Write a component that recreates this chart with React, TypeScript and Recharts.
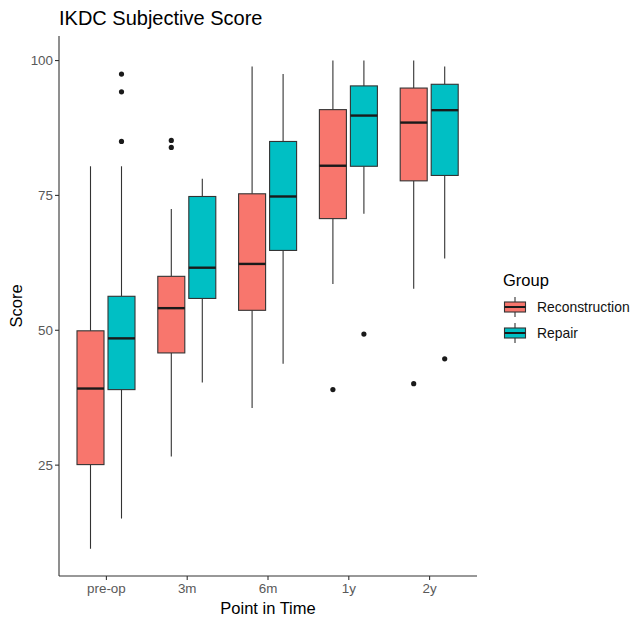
import React from 'react'
import { ComposedChart, Bar, XAxis, YAxis, Legend } from 'recharts'

const timepoints = ['pre-op', '3m', '6m', '1y', '2y']

const reconMin = [9.5, 26.6, 35.6, 58.6, 57.7]
const reconQ1 = [25.1, 45.8, 53.7, 70.7, 77.7]
const reconMedian = [39.2, 54.1, 62.3, 80.5, 88.5]
const reconQ3 = [49.9, 60.0, 75.3, 90.9, 94.9]
const reconMax = [80.4, 72.5, 98.9, 100, 100]
const reconOutliers = [[], [85.2, 83.9], [], [39.0], [40.1]]

const repairMin = [15.1, 40.3, 43.8, 71.6, 63.3]
const repairQ1 = [39.0, 55.9, 64.8, 80.4, 78.7]
const repairMedian = [48.5, 61.6, 74.8, 89.8, 90.8]
const repairQ3 = [56.3, 74.8, 85.0, 95.3, 95.6]
const repairMax = [80.4, 78.1, 97.5, 100, 98.9]
const repairOutliers = [[97.5, 94.2, 85.0], [], [], [49.3], [44.7]]

const yTicks = [25, 50, 75, 100]

const FONT = '"Liberation Sans", Arial, sans-serif'
const RECON = '#F8766D'
const REPAIR = '#00BFC4'
const LINE = '#333333'

const data = timepoints.map((t, i) => ({
  time: t,
  recon: [reconMin[i], reconMax[i]],
  repair: [repairMin[i], repairMax[i]],
  reconStats: { min: reconMin[i], q1: reconQ1[i], med: reconMedian[i], q3: reconQ3[i], max: reconMax[i], out: reconOutliers[i] },
  repairStats: { min: repairMin[i], q1: repairQ1[i], med: repairMedian[i], q3: repairQ3[i], max: repairMax[i], out: repairOutliers[i] },
}))

// bar rect spans whisker min..max; everything else is placed with the same linear scale
const boxShape = (key: 'reconStats' | 'repairStats') => (props: any) => {
  const { x, y, width, height, payload, fill } = props
  const s = payload[key]
  const top = Math.min(y, y + height)
  const h = Math.abs(height)
  const ppu = h / (s.max - s.min)
  const py = (v: number) => top + (s.max - v) * ppu
  const cx = x + width / 2
  return (
    <g>
      <line x1={cx} x2={cx} y1={py(s.max)} y2={py(s.q3)} stroke={LINE} strokeWidth={1.1} />
      <line x1={cx} x2={cx} y1={py(s.q1)} y2={py(s.min)} stroke={LINE} strokeWidth={1.1} />
      <rect x={x} y={py(s.q3)} width={width} height={py(s.q1) - py(s.q3)} fill={fill} stroke={LINE} strokeWidth={1.1} />
      <line x1={x} x2={x + width} y1={py(s.med)} y2={py(s.med)} stroke="#1a1a1a" strokeWidth={2.4} />
      {s.out.map((o: number, j: number) => (
        <circle key={j} cx={cx} cy={py(o)} r={2.6} fill="#1a1a1a" />
      ))}
    </g>
  )
}

const KeyGlyph = ({ color }: { color: string }) => (
  <svg width={24} height={24} style={{ display: 'block' }}>
    <line x1={12} x2={12} y1={2} y2={7} stroke={LINE} strokeWidth={1.1} />
    <line x1={12} x2={12} y1={17} y2={22} stroke={LINE} strokeWidth={1.1} />
    <rect x={1.5} y={7} width={21} height={10} fill={color} stroke={LINE} strokeWidth={1.1} />
    <line x1={1.5} x2={22.5} y1={12} y2={12} stroke="#1a1a1a" strokeWidth={2} />
  </svg>
)

const renderLegend = (props: any) => {
  const { payload } = props
  return (
    <div style={{ fontFamily: FONT, textAlign: 'left' }}>
      <div style={{ fontSize: 16.5, lineHeight: '20px', color: '#000', marginBottom: 4 }}>Group</div>
      {payload.map((p: any) => (
        <div key={p.value} style={{ display: 'flex', alignItems: 'center', height: 26 }}>
          <KeyGlyph color={p.color} />
          <span style={{ fontSize: 13.9, color: '#111', marginLeft: 10 }}>{p.value}</span>
        </div>
      ))}
    </div>
  )
}

export default function App() {
  return (
    <div style={{ position: 'absolute', left: 0, top: 0, width: 631, height: 618, background: '#fff' }}>
      <div
        style={{
          position: 'absolute',
          left: 59,
          top: 6,
          fontFamily: FONT,
          fontSize: 20,
          lineHeight: '24px',
          color: '#000',
        }}
      >
        IKDC Subjective Score
      </div>
      <ComposedChart
        width={631}
        height={618}
        data={data}
        margin={{ top: 36, right: 154, bottom: 0, left: 9 }}
        barSize={27}
        barGap={4}
      >
        <XAxis
          dataKey="time"
          type="category"
          padding={{ left: 7, right: 7 }}
          height={42}
          tickSize={4}
          tickMargin={3.5}
          axisLine={{ stroke: LINE, strokeWidth: 1.1 }}
          tickLine={{ stroke: LINE, strokeWidth: 1.1 }}
          tick={{ fill: '#595959', fontSize: 13.4, fontFamily: FONT }}
          label={{ value: 'Point in Time', position: 'insideBottom', offset: 4, fill: '#000', fontSize: 16.5, fontFamily: FONT }}
        />
        <YAxis
          type="number"
          domain={[4.45, 104.55]}
          ticks={yTicks}
          allowDataOverflow
          width={50}
          tickSize={4}
          tickMargin={2}
          axisLine={{ stroke: LINE, strokeWidth: 1.1 }}
          tickLine={{ stroke: LINE, strokeWidth: 1.1 }}
          tick={{ fill: '#595959', fontSize: 13.4, fontFamily: FONT }}
          label={{
            value: 'Score',
            angle: -90,
            position: 'insideLeft',
            offset: 7,
            fill: '#000',
            fontSize: 16.5,
            fontFamily: FONT,
            style: { textAnchor: 'middle' },
          }}
        />
        <Legend
          layout="horizontal"
          align="center"
          verticalAlign="middle"
          content={renderLegend}
          wrapperStyle={{ left: 503, top: 270, width: 128 }}
        />
        <Bar dataKey="recon" name="Reconstruction" fill={RECON} shape={boxShape('reconStats')} isAnimationActive={false} />
        <Bar dataKey="repair" name="Repair" fill={REPAIR} shape={boxShape('repairStats')} isAnimationActive={false} />
      </ComposedChart>
    </div>
  )
}
